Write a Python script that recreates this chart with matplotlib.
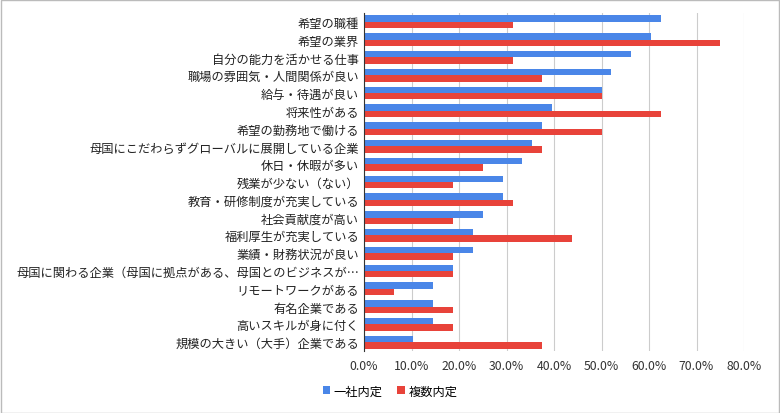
import matplotlib
matplotlib.use("Agg")
import matplotlib.pyplot as plt
from matplotlib.ticker import FuncFormatter
import numpy as np

categories = ["希望の職種", "希望の業界", "自分の能力を活かせる仕事", "職場の雰囲気・人間関係が良い",
              "給与・待遇が良い", "将来性がある", "希望の勤務地で働ける",
              "母国にこだわらずグローバルに展開している企業", "休日・休暇が多い", "残業が少ない（ない）",
              "教育・研修制度が充実している", "社会貢献度が高い", "福利厚生が充実している",
              "業績・財務状況が良い", "母国に関わる企業（母国に拠点がある、母国とのビジネスが…",
              "リモートワークがある", "有名企業である", "高いスキルが身に付く", "規模の大きい（大手）企業である"]
single = [62.5, 60.4, 56.2, 52.1, 50.0, 39.6, 37.5, 35.4, 33.3, 29.2, 29.2, 25.0, 22.9, 22.9, 18.75, 14.6, 14.6, 14.6, 10.4]
multi = [31.3, 75.0, 31.3, 37.5, 50.0, 62.5, 50.0, 37.5, 25.0, 18.75, 31.3, 18.75, 43.75, 18.75, 18.75, 6.25, 18.75, 18.75, 37.5]
series_names = ["一社内定", "複数内定"]

plt.rcParams["font.family"] = "Noto Sans CJK JP"
fig = plt.figure(figsize=(7.8, 4.14), dpi=100)
ax = fig.add_axes([364/780, 1-352/414, (744-364)/780, (352-14)/414])
y = np.arange(len(categories))
h = 0.36
ax.barh(y - h/2, single, height=h, color="#4a86e8", label=series_names[0])
ax.barh(y + h/2, multi, height=h, color="#e8433a", label=series_names[1])
ax.set_ylim(len(categories) - 0.5, -0.5)
ax.set_xlim(0, 80)
ax.set_xticks(np.arange(0, 81, 10))
ax.xaxis.set_major_formatter(FuncFormatter(lambda v, p: f"{v:.1f}%"))
ax.set_yticks(y)
ax.set_yticklabels(categories, fontsize=8.8)
ax.tick_params(axis="x", labelsize=8.8, length=0, colors="#333333", pad=6)
ax.tick_params(axis="y", length=0, colors="#222222")
ax.grid(axis="x", color="#cccccc", linewidth=0.8)
ax.set_axisbelow(True)
for s in ["top", "right", "bottom"]:
    ax.spines[s].set_visible(False)
ax.spines["left"].set_color("#333333")
fig.legend(loc="center", ncol=2, frameon=False, fontsize=8.8, bbox_to_anchor=(0.5, 1-392/414),
           handlelength=0.6, handleheight=0.6, handletextpad=0.3, columnspacing=1.2)
fig.patches.append(plt.Rectangle((0.001, 0.001), 0.998, 0.997, transform=fig.transFigure,
                                 fill=False, edgecolor="#bbbbbb", linewidth=1))
fig.savefig("out.png", dpi=100)
